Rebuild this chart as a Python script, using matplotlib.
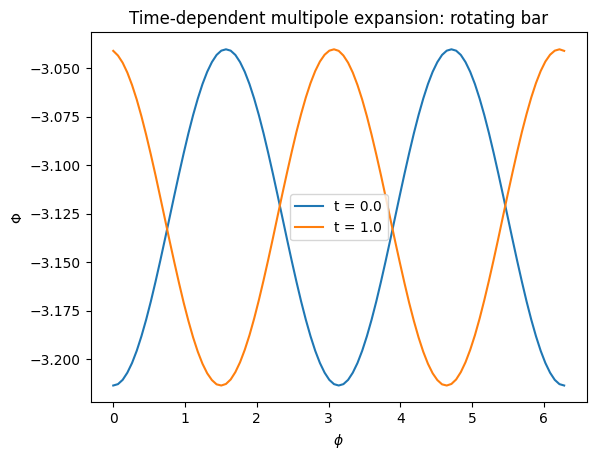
import numpy as np
import matplotlib
matplotlib.use("Agg")
import matplotlib.pyplot as plt

# potential along a ring (97 samples over 0..2pi)
phi = np.linspace(0, 2 * np.pi, 97)

phi_t0 = [-3.2134, -3.2127, -3.2105, -3.2068, -3.2018, -3.1955, -3.1880, -3.1795,
          -3.1701, -3.1599, -3.1492, -3.1381, -3.1268, -3.1155, -3.1044, -3.0937,
          -3.0835, -3.0741, -3.0656, -3.0581, -3.0518, -3.0468, -3.0431, -3.0409,
          -3.0402, -3.0409, -3.0431, -3.0468, -3.0518, -3.0581, -3.0656, -3.0741,
          -3.0835, -3.0937, -3.1044, -3.1155, -3.1268, -3.1381, -3.1492, -3.1599,
          -3.1701, -3.1795, -3.1880, -3.1955, -3.2018, -3.2068, -3.2105, -3.2127,
          -3.2134, -3.2127, -3.2105, -3.2068, -3.2018, -3.1955, -3.1880, -3.1795,
          -3.1701, -3.1599, -3.1492, -3.1381, -3.1268, -3.1155, -3.1044, -3.0937,
          -3.0835, -3.0741, -3.0656, -3.0581, -3.0518, -3.0468, -3.0431, -3.0409,
          -3.0402, -3.0409, -3.0431, -3.0468, -3.0518, -3.0581, -3.0656, -3.0741,
          -3.0835, -3.0937, -3.1044, -3.1155, -3.1268, -3.1381, -3.1492, -3.1599,
          -3.1701, -3.1795, -3.1880, -3.1955, -3.2018, -3.2068, -3.2105, -3.2127,
          -3.2134]

phi_t1 = [-3.0410, -3.0434, -3.0471, -3.0522, -3.0586, -3.0661, -3.0747, -3.0842,
          -3.0944, -3.1051, -3.1163, -3.1276, -3.1389, -3.1499, -3.1606, -3.1708,
          -3.1801, -3.1886, -3.1960, -3.2022, -3.2071, -3.2106, -3.2128, -3.2134,
          -3.2126, -3.2103, -3.2065, -3.2014, -3.1950, -3.1875, -3.1789, -3.1694,
          -3.1592, -3.1485, -3.1374, -3.1260, -3.1147, -3.1037, -3.0930, -3.0828,
          -3.0735, -3.0650, -3.0576, -3.0514, -3.0465, -3.0430, -3.0409, -3.0402,
          -3.0410, -3.0434, -3.0471, -3.0522, -3.0586, -3.0661, -3.0747, -3.0842,
          -3.0944, -3.1051, -3.1163, -3.1276, -3.1389, -3.1499, -3.1606, -3.1708,
          -3.1801, -3.1886, -3.1960, -3.2022, -3.2071, -3.2106, -3.2128, -3.2134,
          -3.2126, -3.2103, -3.2065, -3.2014, -3.1950, -3.1875, -3.1789, -3.1694,
          -3.1592, -3.1485, -3.1374, -3.1260, -3.1147, -3.1037, -3.0930, -3.0828,
          -3.0735, -3.0650, -3.0576, -3.0514, -3.0465, -3.0430, -3.0409, -3.0402,
          -3.0410]

labels = ["t = 0.0", "t = 1.0"]

fig = plt.figure(figsize=(5.96, 4.59), dpi=100)
ax = fig.add_axes([0.1522, 0.1235, 0.8322, 0.8057])

ax.plot(phi, phi_t0, label=labels[0])
ax.plot(phi, phi_t1, label=labels[1])

ax.set_xlabel(r"$\phi$")
ax.set_ylabel("Φ")
ax.set_title("Time-dependent multipole expansion: rotating bar")
ax.legend(loc="center")

fig.savefig("out.png", dpi=100)
